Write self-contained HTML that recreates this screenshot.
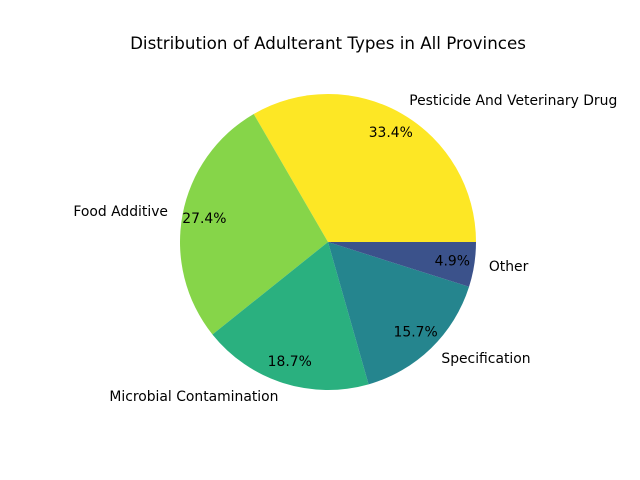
<!DOCTYPE html>
<html><head><meta charset="utf-8"><style>
body{margin:0;background:#fff}
svg{display:block;font-family:"DejaVu Sans","Liberation Sans",sans-serif}
</style></head><body>
<svg id="chart" width="640" height="480" viewBox="0 0 640 480">
<rect width="640" height="480" fill="#fff"/>
<text x="328" y="49" text-anchor="middle" font-size="16.7" fill="#000">Distribution of Adulterant Types in All Provinces</text>
<g id="slices"></g>
</svg>
<script>
const categories = ["Pesticide And Veterinary Drug","Food Additive","Microbial Contamination","Specification","Other"];
const values = [33.4,27.4,18.7,15.7,4.9];
const colors = ["#fde725","#86d549","#2ab07f","#25858e","#3b528b"];
const cx=328, cy=242, r=148;
const g=document.getElementById('slices');
const ns="http://www.w3.org/2000/svg";
const total=values.reduce((a,b)=>a+b,0);
let start=0;
values.forEach((v,i)=>{
  const a0=start, a1=start+v/total*2*Math.PI; start=a1;
  const x0=cx+r*Math.cos(a0), y0=cy-r*Math.sin(a0);
  const x1=cx+r*Math.cos(a1), y1=cy-r*Math.sin(a1);
  const large=(a1-a0)>Math.PI?1:0;
  const p=document.createElementNS(ns,'path');
  p.setAttribute('d',`M${cx},${cy} L${x0},${y0} A${r},${r} 0 ${large} 0 ${x1},${y1} Z`);
  p.setAttribute('fill',colors[i]);
  
  
  g.appendChild(p);
  const m=(a0+a1)/2;
  const pt=document.createElementNS(ns,'text');
  pt.setAttribute('x',cx+0.85*r*Math.cos(m));
  pt.setAttribute('y',cy-0.85*r*Math.sin(m)+4);
  pt.setAttribute('text-anchor','middle');
  pt.setAttribute('font-size','13.9');
  pt.textContent=(v/total*100).toFixed(1)+'%';
  
  
  g.appendChild(pt);
  const lt=document.createElementNS(ns,'text');
  const lx=cx+1.1*r*Math.cos(m), ly=cy-1.1*r*Math.sin(m);
  lt.setAttribute('x',lx);
  lt.setAttribute('y',ly+4);
  lt.setAttribute('text-anchor',Math.cos(m)>=0?'start':'end');
  lt.setAttribute('font-size','13.9');
  lt.textContent=categories[i];
  
  
  g.appendChild(lt);
});
</script>
</body></html>
